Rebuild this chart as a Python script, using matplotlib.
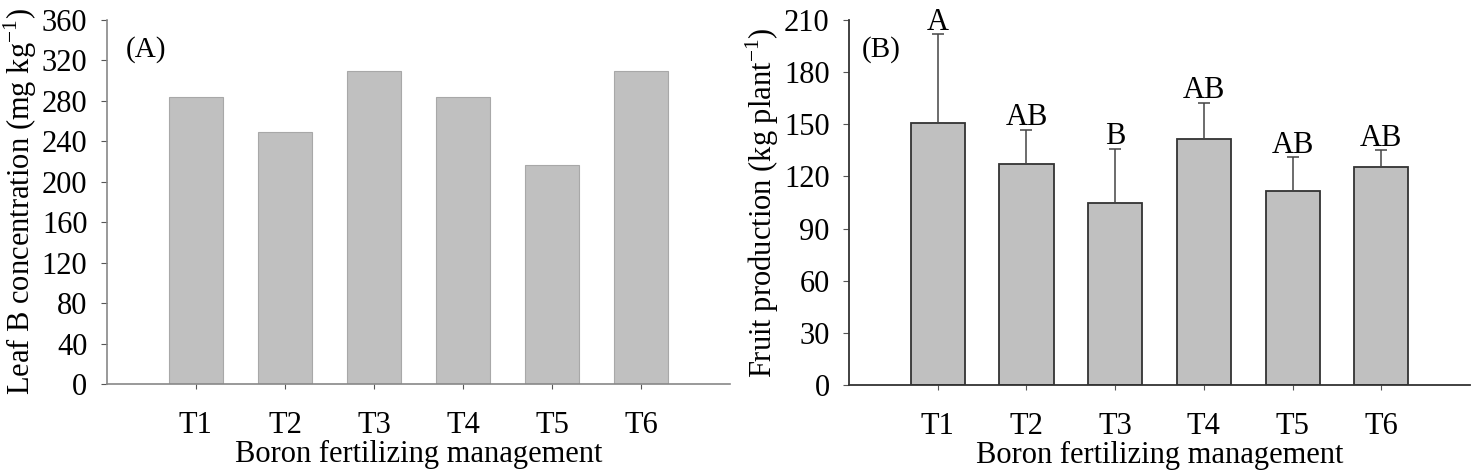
import numpy as np
import matplotlib.pyplot as plt

plt.rcParams['font.family'] = ['Liberation Serif', 'DejaVu Serif']
plt.rcParams['mathtext.fontset'] = 'custom'
plt.rcParams['mathtext.rm'] = 'Liberation Serif'

treatments = ['T1', 'T2', 'T3', 'T4', 'T5', 'T6']
leaf_b = [284, 249, 310, 284, 217, 310]
fruit = [151, 127, 105, 141.5, 111.5, 125.5]
fruit_err = [51, 20, 31, 21, 19.5, 9.5]
letters = ['A', 'AB', 'B', 'AB', 'AB', 'AB']

x = np.arange(1, len(treatments) + 1)

fig = plt.figure(figsize=(14.81, 4.71), dpi=100)
ax0 = fig.add_axes([0.0722, 0.1847, 0.4207, 0.7728])
ax1 = fig.add_axes([0.5733, 0.1826, 0.4193, 0.7749])

# (A) leaf B
ax0.bar(x, leaf_b, width=0.61, color='#c0c0c0', edgecolor='#a8a8a8', linewidth=0.8)
ax0.set_ylim(0, 360)
ax0.set_yticks(np.arange(0, 361, 40))
ax0.set_ylabel('Leaf B concentration (mg kg$^{-1}$)', fontsize=22, labelpad=2)
ax0.text(0.03, 0.92, '(A)', transform=ax0.transAxes, fontsize=21, va='center')
gray = '#888888'
for sp in ['left', 'bottom']:
    ax0.spines[sp].set_color(gray)
    ax0.spines[sp].set_linewidth(1.2)

# (B) fruit production
ax1.bar(x, fruit, width=0.61, color='#c0c0c0', edgecolor='#333333', linewidth=1.3,
        yerr=[np.zeros(len(fruit)), fruit_err],
        error_kw=dict(ecolor='#444444', elinewidth=1.1, capsize=4, capthick=1.1))
for xi, v, e, lab in zip(x, fruit, fruit_err, letters):
    ax1.text(xi, v + e - 1.5, lab, ha='center', va='bottom', fontsize=22)
ax1.set_ylim(0, 210)
ax1.set_yticks(np.arange(0, 211, 30))
ax1.set_ylabel('Fruit production (kg plant$^{-1}$)', fontsize=22, labelpad=2)
ax1.text(0.02, 0.92, '(B)', transform=ax1.transAxes, fontsize=21, va='center')
for sp in ['left', 'bottom']:
    ax1.spines[sp].set_color('#333333')
    ax1.spines[sp].set_linewidth(1.3)

for ax in (ax0, ax1):
    ax.set_xlim(0, 7)
    ax.set_xticks(x)
    ax.set_xticklabels(treatments)
    ax.spines['top'].set_visible(False)
    ax.spines['right'].set_visible(False)
    ax.tick_params(axis='both', labelsize=22, direction='out', color='#555555')
    ax.tick_params(axis='x', length=3.5, pad=16)
    ax.tick_params(axis='y', length=4, pad=10)
    ax.set_xlabel('Boron fertilizing management', fontsize=22, labelpad=0)

fig.savefig('out.png', dpi=100)
